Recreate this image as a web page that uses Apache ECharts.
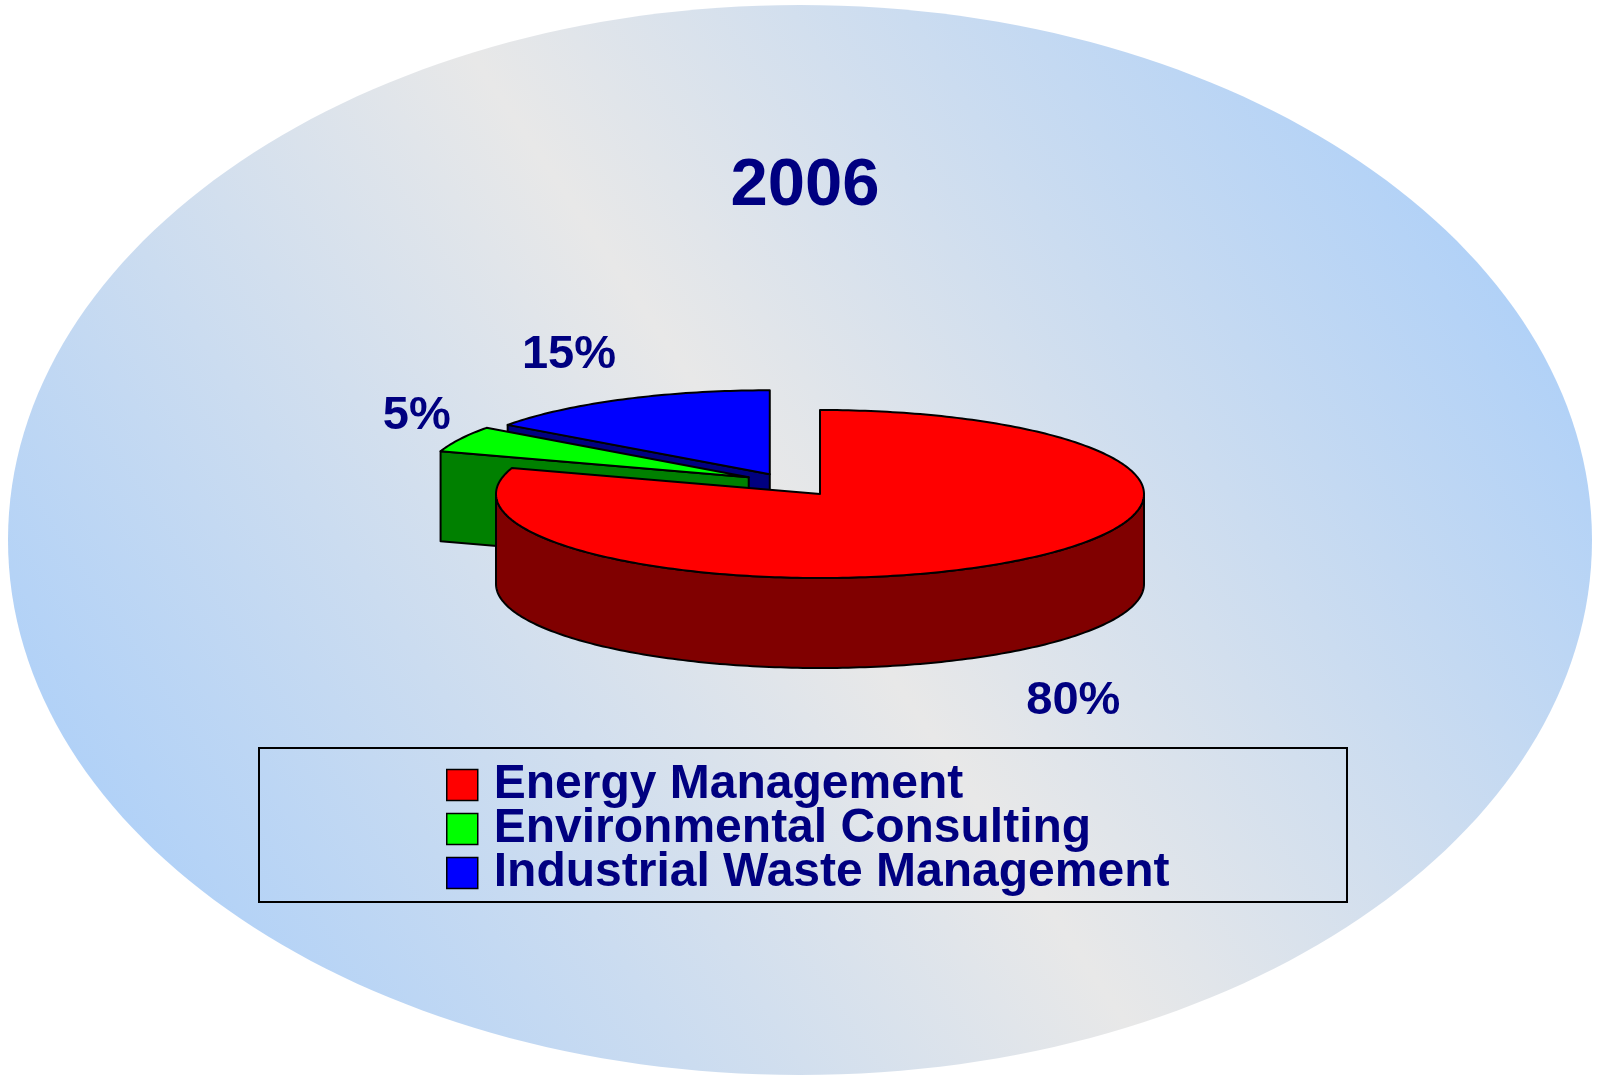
<!DOCTYPE html>
<html>
<head>
<meta charset="utf-8">
<script src="https://cdn.jsdelivr.net/npm/echarts@6/dist/echarts.min.js"></script>
<style>
html,body{margin:0;padding:0;background:#ffffff;}
#chart{width:1598px;height:1077px;}
</style>
</head>
<body>
<div id="chart"></div>
<script>
// ---- data ----
const titleText = '2006';
const categories = ['Energy Management', 'Environmental Consulting', 'Industrial Waste Management'];
const values = [80, 5, 15];
const valueLabels = ['80%', '5%', '15%'];

// ---- style ----
const topColors = ['#ff0000', '#00ff00', '#0000ff'];
const sideColors = ['#800000', '#008000', '#000080'];
// slice pull-out, as fractions of the pie radii (x, y)
const explodeOffset = [[0, 0], [-0.22, -0.2], [-0.155, -0.235]];
// label distance from slice centre, in radii (x, y)
const labelDist = [[1.33, 1.72], [1.15, 1.61], [1.365, 1.595]];
const G = { cx: 820, cy: 494, rx: 324, ry: 84, depth: 90 };
const FONT = 'Liberation Sans, Arial, sans-serif';
const NAVY = '#000080';

const D2R = Math.PI / 180;
function pt(cx, cy, phi, dy) {
  return [cx + G.rx * Math.sin(phi * D2R), cy - G.ry * Math.cos(phi * D2R) + (dy || 0)];
}
function arc(cx, cy, a, b, dy) {
  const pts = [];
  const n = Math.max(2, Math.ceil(Math.abs(b - a)));
  for (let k = 0; k <= n; k++) pts.push(pt(cx, cy, a + (b - a) * k / n, dy));
  return pts;
}

function renderItem(params, api) {
  const i = params.seriesIndex;
  const total = values.reduce((s, x) => s + x, 0);
  let before = 0;
  for (let k = 0; k < i; k++) before += values[k];
  const v = api.value(0);
  const p0 = before / total * 360;
  const p1 = (before + v) / total * 360;
  const pm = (p0 + p1) / 2;
  const cx = G.cx + explodeOffset[i][0] * G.rx;
  const cy = G.cy + explodeOffset[i][1] * G.ry;
  const base = (values.length - i) * 10;
  const lineStyle = { stroke: '#000', lineWidth: 2, lineJoin: 'round' };
  const children = [];

  function face(p) {
    const t = pt(cx, cy, p);
    return {
      type: 'polygon', z2: base + 1,
      shape: { points: [[cx, cy], t, [t[0], t[1] + G.depth], [cx, cy + G.depth]] },
      style: Object.assign({ fill: sideColors[i] }, lineStyle)
    };
  }
  if (Math.sin(p0 * D2R) < -1e-6) children.push(face(p0));
  if (Math.sin(p1 * D2R) > 1e-6) children.push(face(p1));

  const a = Math.max(p0, 90), b = Math.min(p1, 270);
  if (b > a) {
    const top = arc(cx, cy, a, b, 0);
    const bot = arc(cx, cy, a, b, G.depth).reverse();
    children.push({
      type: 'polygon', z2: base + 2,
      shape: { points: top.concat(bot) },
      style: Object.assign({ fill: sideColors[i] }, lineStyle)
    });
  }

  children.push({
    type: 'polygon', z2: base + 3,
    shape: { points: [[cx, cy]].concat(arc(cx, cy, p0, p1, 0)) },
    style: Object.assign({ fill: topColors[i] }, lineStyle)
  });

  const kx = labelDist[i][0], ky = labelDist[i][1];
  const cm = Math.cos(pm * D2R);
  children.push({
    type: 'text', z2: base + 5,
    style: {
      text: valueLabels[i],
      x: cx + kx * G.rx * Math.sin(pm * D2R),
      y: cy - ky * G.ry * cm + (cm < 0 ? G.depth : 0),
      fill: NAVY, fontFamily: FONT, fontWeight: 'bold', fontSize: 47,
      align: 'center', verticalAlign: 'middle'
    }
  });

  return { type: 'group', children: children };
}

const chart = echarts.init(document.getElementById('chart'), null, { renderer: 'canvas' });
chart.setOption({
  animation: false,
  backgroundColor: '#ffffff',
  title: {
    text: titleText, left: 800, top: 148, textAlign: 'center',
    textStyle: { fontFamily: FONT, fontWeight: 'bold', fontSize: 67, color: NAVY }
  },
  graphic: [
    {
      type: 'ellipse', z: -10, silent: true,
      shape: { cx: 800, cy: 540, rx: 792, ry: 535 },
      style: {
        fill: {
          type: 'linear', x: 1, y: 0, x2: 0, y2: 1,
          colorStops: [
            { offset: 0.1, color: '#aed0f8' },
            { offset: 0.5, color: '#e8e8e8' },
            { offset: 0.9, color: '#aed0f8' }
          ]
        }
      }
    },
    {
      type: 'rect', z: -5, silent: true,
      shape: { x: 259, y: 748, width: 1088, height: 154 },
      style: { fill: 'none', stroke: '#000', lineWidth: 2 }
    }
  ],
  legend: {
    orient: 'vertical', left: 446, top: 761,
    itemWidth: 31, itemHeight: 31, itemGap: -4, icon: 'rect',
    selectedMode: false, padding: 0,
    data: categories,
    itemStyle: { borderColor: '#000', borderWidth: 1.5 },
    textStyle: { fontFamily: FONT, fontWeight: 'bold', fontSize: 48, color: NAVY, lineHeight: 43, padding: [0, 0, 0, 11] }
  },
  series: categories.map((name, i) => ({
    type: 'custom', name: name, coordinateSystem: 'none',
    renderItem: renderItem, silent: true,
    itemStyle: { color: topColors[i], borderColor: '#000', borderWidth: 1.5 },
    data: [values[i]]
  }))
});
</script>
</body>
</html>
